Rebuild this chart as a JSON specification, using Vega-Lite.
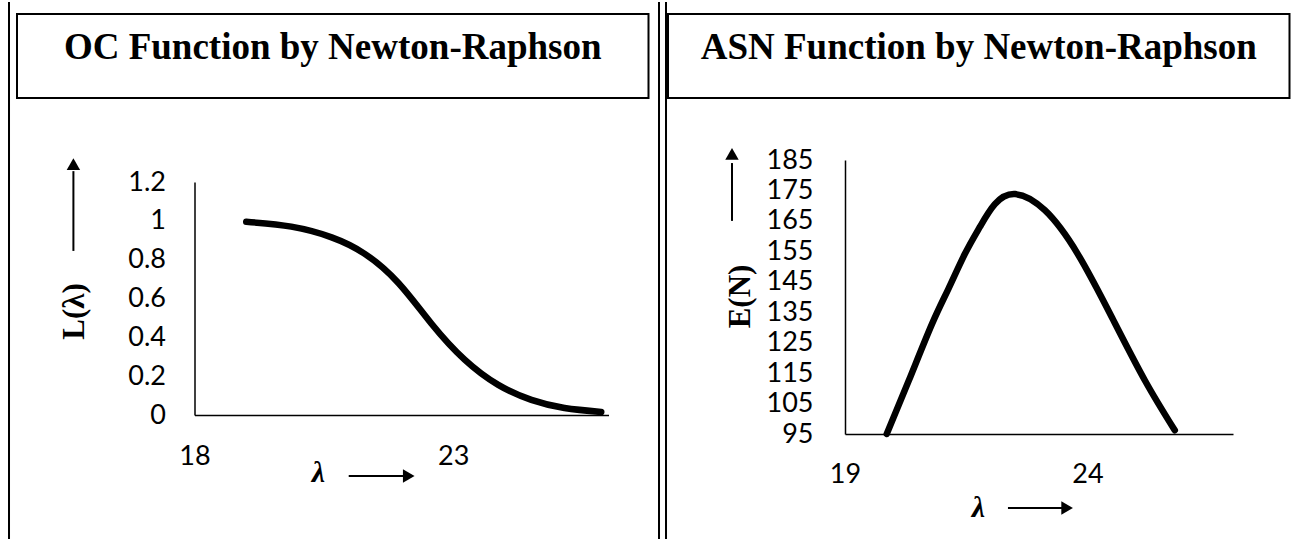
{
  "$schema": "https://vega.github.io/schema/vega-lite/v6.json",
  "padding": {"left": 8, "top": 1, "right": 4, "bottom": 0},
  "autosize": {"type": "pad"},
  "background": "white",
  "config": {
    "view": {"stroke": null},
    "axis": {
      "domainColor": "black", "domainWidth": 1.5, "ticks": false, "tickSize": 0, "grid": false,
      "labelFont": "Lato", "labelFontSize": 27, "labelColor": "black", "labelOverlap": false,
      "labelFlush": false, "titleColor": "black"
    }
  },
  "bounds": "flush",
  "align": "each",
  "spacing": 0,
  "columns": 11,
  "concat": [
    {"width": 0.01, "height": 11, "view": {"stroke": "black", "strokeWidth": 2}, "data": {"values": [{}]}, "mark": "text", "encoding": {"text": {"value": ""}}},
    {"width": 6.5, "height": 11, "data": {"values": [{}]}, "mark": "text", "encoding": {"text": {"value": ""}}},
    {"width": 631.5, "height": 11, "data": {"values": [{}]}, "mark": "text", "encoding": {"text": {"value": ""}}},
    {"width": 10, "height": 11, "data": {"values": [{}]}, "mark": "text", "encoding": {"text": {"value": ""}}},
    {"width": 0.01, "height": 11, "view": {"stroke": "black", "strokeWidth": 2}, "data": {"values": [{}]}, "mark": "text", "encoding": {"text": {"value": ""}}},
    {"width": 5.5, "height": 11, "data": {"values": [{}]}, "mark": "text", "encoding": {"text": {"value": ""}}},
    {"width": 0.01, "height": 11, "view": {"stroke": "black", "strokeWidth": 2}, "data": {"values": [{}]}, "mark": "text", "encoding": {"text": {"value": ""}}},
    {"width": 0.5, "height": 11, "data": {"values": [{}]}, "mark": "text", "encoding": {"text": {"value": ""}}},
    {"width": 621.5, "height": 11, "data": {"values": [{}]}, "mark": "text", "encoding": {"text": {"value": ""}}},
    {"width": 3.5, "height": 11, "data": {"values": [{}]}, "mark": "text", "encoding": {"text": {"value": ""}}},
    {"width": 0.01, "height": 11, "view": {"stroke": "black", "strokeWidth": 2}, "data": {"values": [{}]}, "mark": "text", "encoding": {"text": {"value": ""}}},

    {"width": 0.01, "height": 84, "view": {"stroke": "black", "strokeWidth": 2}, "data": {"values": [{}]}, "mark": "text", "encoding": {"text": {"value": ""}}},
    {"width": 6.5, "height": 84, "data": {"values": [{}]}, "mark": "text", "encoding": {"text": {"value": ""}}},
    {"width": 631.5, "height": 84, "view": {"stroke": "black", "strokeWidth": 2},
     "data": {"values": [{"t": "OC Function by Newton-Raphson"}]},
     "mark": {"type": "text", "font": "Liberation Serif", "fontWeight": "bold", "fontSize": 37, "baseline": "alphabetic", "align": "center", "dy": 3, "color": "black"},
     "encoding": {"text": {"field": "t"}}},
    {"width": 10, "height": 84, "data": {"values": [{}]}, "mark": "text", "encoding": {"text": {"value": ""}}},
    {"width": 0.01, "height": 84, "view": {"stroke": "black", "strokeWidth": 2}, "data": {"values": [{}]}, "mark": "text", "encoding": {"text": {"value": ""}}},
    {"width": 5.5, "height": 84, "data": {"values": [{}]}, "mark": "text", "encoding": {"text": {"value": ""}}},
    {"width": 0.01, "height": 84, "view": {"stroke": "black", "strokeWidth": 2}, "data": {"values": [{}]}, "mark": "text", "encoding": {"text": {"value": ""}}},
    {"width": 0.5, "height": 84, "data": {"values": [{}]}, "mark": "text", "encoding": {"text": {"value": ""}}},
    {"width": 621.5, "height": 84, "view": {"stroke": "black", "strokeWidth": 2},
     "data": {"values": [{"t": "ASN Function by Newton-Raphson"}]},
     "mark": {"type": "text", "font": "Liberation Serif", "fontWeight": "bold", "fontSize": 37, "baseline": "alphabetic", "align": "center", "dy": 3, "color": "black"},
     "encoding": {"text": {"field": "t"}}},
    {"width": 3.5, "height": 84, "data": {"values": [{}]}, "mark": "text", "encoding": {"text": {"value": ""}}},
    {"width": 0.01, "height": 84, "view": {"stroke": "black", "strokeWidth": 2}, "data": {"values": [{}]}, "mark": "text", "encoding": {"text": {"value": ""}}},

    {"width": 0.01, "height": 441, "view": {"stroke": "black", "strokeWidth": 2}, "data": {"values": [{}]}, "mark": "text", "encoding": {"text": {"value": ""}}},
    {"width": 6.5, "height": 441, "data": {"values": [{}]}, "mark": "text", "encoding": {"text": {"value": ""}}},
    {
      "width": 631.5, "height": 441,
      "layer": [
        {
          "data": {"values": [
            {"lambda": 19.0, "L": 0.995},
            {"lambda": 19.87, "L": 0.97},
            {"lambda": 20.65, "L": 0.915},
            {"lambda": 21.29, "L": 0.83},
            {"lambda": 21.94, "L": 0.68},
            {"lambda": 22.58, "L": 0.47},
            {"lambda": 23.22, "L": 0.285},
            {"lambda": 23.87, "L": 0.155},
            {"lambda": 24.51, "L": 0.078},
            {"lambda": 25.15, "L": 0.036},
            {"lambda": 25.86, "L": 0.016}
          ]},
          "mark": {"type": "line", "color": "black", "strokeWidth": 6.5, "interpolate": "natural", "strokeCap": "round"},
          "encoding": {
            "x": {"field": "lambda", "type": "quantitative",
              "scale": {"domain": [18, 26], "range": [177.5, 591.5], "nice": false, "zero": false},
              "axis": {"orient": "bottom", "offset": -124, "values": [18, 23], "format": "d", "labelPadding": 28,
                "title": "λ", "titleFont": "Liberation Serif", "titleFontWeight": "bold", "titleFontStyle": "italic", "titleFontSize": 30,
                "titleX": 301, "titleY": 66, "titleAlign": "center", "titleBaseline": "alphabetic", "titleAngle": 0}},
            "y": {"field": "L", "type": "quantitative",
              "scale": {"domain": [0, 1.2], "range": [317, 84], "nice": false, "zero": false},
              "axis": {"orient": "left", "offset": -177.5, "values": [0, 0.2, 0.4, 0.6, 0.8, 1, 1.2], "format": "~g", "labelPadding": 29,
                "title": "L(λ)", "titleFont": "Liberation Serif", "titleFontWeight": "bold", "titleFontSize": 31,
                "titleX": -120.5, "titleY": 213, "titleAlign": "center", "titleBaseline": "middle", "titleAngle": -90}}
          }
        },
        {
          "data": {"values": [{}]},
          "mark": {"type": "rule", "color": "black", "strokeWidth": 2},
          "encoding": {"x": {"datum": 20.98}, "x2": {"datum": 22.06}, "y": {"datum": -0.314}}
        },
        {
          "data": {"values": [{}]},
          "mark": {"type": "point", "shape": "triangle-right", "filled": true, "size": 180, "color": "black", "opacity": 1},
          "encoding": {"x": {"datum": 22.14}, "y": {"datum": -0.314}}
        },
        {
          "data": {"values": [{}]},
          "mark": {"type": "rule", "color": "black", "strokeWidth": 2},
          "encoding": {"x": {"datum": 15.66}, "y": {"datum": 0.845}, "y2": {"datum": 1.256}}
        },
        {
          "data": {"values": [{}]},
          "mark": {"type": "point", "shape": "triangle-up", "filled": true, "size": 180, "color": "black", "opacity": 1},
          "encoding": {"x": {"datum": 15.66}, "y": {"datum": 1.292}}
        }
      ]
    },
    {"width": 10, "height": 441, "data": {"values": [{}]}, "mark": "text", "encoding": {"text": {"value": ""}}},
    {"width": 0.01, "height": 441, "view": {"stroke": "black", "strokeWidth": 2}, "data": {"values": [{}]}, "mark": "text", "encoding": {"text": {"value": ""}}},
    {"width": 5.5, "height": 441, "data": {"values": [{}]}, "mark": "text", "encoding": {"text": {"value": ""}}},
    {"width": 0.01, "height": 441, "view": {"stroke": "black", "strokeWidth": 2}, "data": {"values": [{}]}, "mark": "text", "encoding": {"text": {"value": ""}}},
    {"width": 0.5, "height": 441, "data": {"values": [{}]}, "mark": "text", "encoding": {"text": {"value": ""}}},
    {
      "width": 621.5, "height": 441,
      "layer": [
        {
          "data": {"values": [
            {"lambda": 19.86, "E": 95},
            {"lambda": 20.32, "E": 112.7},
            {"lambda": 20.79, "E": 131},
            {"lambda": 21.13, "E": 142.6},
            {"lambda": 21.47, "E": 154.1},
            {"lambda": 21.78, "E": 163},
            {"lambda": 22.09, "E": 170.5},
            {"lambda": 22.51, "E": 173.8},
            {"lambda": 23.12, "E": 168.5},
            {"lambda": 23.8, "E": 154.1},
            {"lambda": 24.51, "E": 133.1},
            {"lambda": 25.19, "E": 112.4},
            {"lambda": 25.8, "E": 96.2}
          ]},
          "mark": {"type": "line", "color": "black", "strokeWidth": 6.5, "interpolate": "natural", "strokeCap": "round"},
          "encoding": {
            "x": {"field": "lambda", "type": "quantitative",
              "scale": {"domain": [19, 27], "range": [177, 565], "nice": false, "zero": false},
              "axis": {"orient": "bottom", "offset": -105, "values": [19, 24], "format": "d", "labelPadding": 27,
                "title": "λ", "titleFont": "Liberation Serif", "titleFontWeight": "bold", "titleFontStyle": "italic", "titleFontSize": 30,
                "titleX": 310, "titleY": 82, "titleAlign": "center", "titleBaseline": "alphabetic", "titleAngle": 0}},
            "y": {"field": "E", "type": "quantitative",
              "scale": {"domain": [95, 185], "range": [336, 62], "nice": false, "zero": false},
              "axis": {"orient": "left", "offset": -177, "values": [95, 105, 115, 125, 135, 145, 155, 165, 175, 185], "format": "d", "labelPadding": 32,
                "title": "E(N)", "titleFont": "Liberation Serif", "titleFontWeight": "bold", "titleFontSize": 31,
                "titleX": -104.5, "titleY": 198, "titleAlign": "center", "titleBaseline": "middle", "titleAngle": -90}}
          }
        },
        {
          "data": {"values": [{}]},
          "mark": {"type": "rule", "color": "black", "strokeWidth": 2},
          "encoding": {"x": {"datum": 22.36}, "x2": {"datum": 23.49}, "y": {"datum": 70.7}}
        },
        {
          "data": {"values": [{}]},
          "mark": {"type": "point", "shape": "triangle-right", "filled": true, "size": 180, "color": "black", "opacity": 1},
          "encoding": {"x": {"datum": 23.58}, "y": {"datum": 70.7}}
        },
        {
          "data": {"values": [{}]},
          "mark": {"type": "rule", "color": "black", "strokeWidth": 2},
          "encoding": {"x": {"datum": 16.67}, "y": {"datum": 165}, "y2": {"datum": 184}}
        },
        {
          "data": {"values": [{}]},
          "mark": {"type": "point", "shape": "triangle-up", "filled": true, "size": 180, "color": "black", "opacity": 1},
          "encoding": {"x": {"datum": 16.67}, "y": {"datum": 187}}
        }
      ]
    },
    {"width": 3.5, "height": 441, "data": {"values": [{}]}, "mark": "text", "encoding": {"text": {"value": ""}}},
    {"width": 0.01, "height": 441, "view": {"stroke": "black", "strokeWidth": 2}, "data": {"values": [{}]}, "mark": "text", "encoding": {"text": {"value": ""}}}
  ]
}
